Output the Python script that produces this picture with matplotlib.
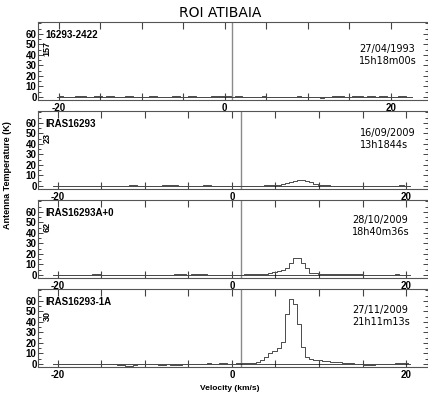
import matplotlib
matplotlib.use("Agg")
import matplotlib.pyplot as plt
import numpy as np
from matplotlib.ticker import MultipleLocator, FixedLocator, FuncFormatter

plt.rcParams["font.family"] = ["Liberation Sans", "DejaVu Sans"]
plt.rcParams["font.weight"] = "bold"

# ── data ──────────────────────────────────────────────────────────────────────
TITLE   = "ROI ATIBAIA"
SOURCES = ["16293-2422", "IRAS16293", "IRAS16293A+0", "IRAS16293-1A"]
SCANS   = ["157", "23", "62", "30"]
DATES   = ["27/04/1993", "16/09/2009", "28/10/2009", "27/11/2009"]
TIMES   = ["15h18m00s", "13h1844s", "18h40m36s", "21h11m13s"]
VLSR    = [0.85, 1.0, 1.0, 1.0]

# channel grid (km/s): first channel, width
V0 = [-20.2, -20.49, -20.49, -20.49]
DV = 0.47

T1 = [0.3, 0.5, 0.2, -0.3, 0.4, 0.6, 0.5, 0.7, 0.4, 0.2,
      0.6, 0.5, 0.3, 0.7, 0.6, 0.2, -0.4, 0.3, 0.5, 0.6,
      0.2, -0.5, -0.3, 0.4, 0.6, 0.5, 0.3, 0.2, -0.4, -0.2,
      0.5, 0.8, 0.4, 0.2, 0.6, 0.5, -0.3, 0.4, 0.3, 0.2,
      0.6, 0.9, 1.0, 0.7, 0.5, 0.4, 0.8, 0.6, 0.3, 0.4,
      0.2, -0.4, 0.3, 0.5, 0.2, 0.4, 0.3, -0.3, -0.5, 0.2,
      0.4, 0.3, 0.5, 0.2, -0.2, 0.3, 0.4, 0.2, -0.6, -0.4,
      -0.3, 0.5, 0.8, 0.6, 0.3, 0.4, 0.7, 0.9, 0.6, 0.4,
      0.8, 0.6, 0.3, 0.5, 0.7, 0.4, 0.2, -0.3, 0.5, 0.6,
      0.3, 0.2]

T2 = [0.2, 0.1, 0.3, 0.2, 0.0, 0.3, 0.2, 0.1, 0.2, 0.3,
      0.2, 0.1, 0.4, 0.3, 0.2, 0.1, 0.3, 0.2, 0.2, 0.5,
      0.6, 0.4, 0.3, 0.2, 0.1, 0.2, 0.3, 0.6, 0.7, 0.5,
      0.6, 0.4, 0.3, 0.2, 0.3, 0.2, 0.4, 0.6, 0.5, 0.3,
      0.2, 0.1, 0.2, 0.3, 0.2, 0.3, 0.2, 0.1, 0.3, 0.4,
      0.3, 0.4, 0.5, 0.6, 0.8, 1.1, 1.7, 2.6, 3.7, 4.8,
      5.6, 5.7, 4.8, 3.4, 2.0, 1.1, 0.7, 0.5, 0.4, 0.3,
      0.3, 0.2, 0.3, 0.2, 0.2, 0.1, 0.2, 0.1, 0.2, 0.3,
      0.2, 0.1, 0.3, 0.2, 0.4, 0.5, 0.3, 0.2]

T3 = [0.2, 0.3, 0.1, 0.2, 0.4, 0.3, 0.2, 0.1, 0.3, 0.2,
      0.6, 0.5, 0.2, 0.1, 0.3, 0.2, 0.1, 0.2, 0.3, 0.2,
      0.1, 0.3, 0.2, 0.1, 0.2, 0.3, 0.2, 0.1, 0.2, 0.4,
      0.8, 0.9, 0.7, 0.4, 0.5, 0.7, 0.8, 0.6, 0.3, 0.2,
      0.3, 0.2, 0.1, 0.3, 0.2, 0.3, 0.4, 0.5, 0.6, 0.7,
      0.8, 1.0, 1.3, 1.8, 2.5, 3.3, 4.5, 6.5, 11.7, 16.5,
      16.5, 11.8, 7.0, 2.0, 1.5, 1.3, 1.2, 1.1, 1.0, 0.9,
      0.8, 0.8, 0.7, 0.6, 0.6, 0.5, 0.4, 0.4, 0.3, 0.3,
      0.2, 0.3, 0.2, 0.4, 0.5, 0.4, 0.3, 0.2]

T4 = [0.3, 0.2, 0.4, 0.3, 0.2, 0.3, 0.1, 0.2, 0.3, 0.2,
      0.1, 0.2, 0.0, -0.3, -0.2, -0.4, -0.8, -1.2, -1.8, -1.5,
      -0.8, -0.3, 0.2, 0.3, 0.1, -0.3, -0.6, -0.8, -0.5, -0.9,
      -1.0, -0.7, -0.3, 0.1, 0.2, 0.3, 0.2, 0.4, 0.5, 0.3,
      0.4, 0.6, 0.5, 0.4, 0.3, 0.5, 0.6, 0.8, 1.0, 1.2,
      1.8, 4.0, 6.5, 10.0, 12.5, 15.0, 21.0, 48.0, 62.0, 57.0,
      38.0, 16.0, 7.0, 5.0, 4.0, 3.5, 3.0, 2.5, 2.2, 2.0,
      1.5, 1.2, 1.0, 0.5, 0.2, -0.5, -1.0, -1.2, -1.0, -0.5,
      0.0, 0.2, 0.3, 0.4, 0.5, 0.8, 0.6, 0.4]

SPECTRA = [T1, T2, T3, T4]
XLIMS   = [(-22.5, 24.5), (-22.25, 22.5), (-22.25, 22.5), (-22.25, 22.5)]

# ── layout (pixels) ───────────────────────────────────────────────────────────
W, H = 428, 395
TOPS = [22, 111, 200, 289]
PH = 78
LEFT, RIGHT = 38, 428
DATE_X = [359, 360, 352, 352]
DATE_DY = [27, 22, 20, 21]

fig = plt.figure(figsize=(W / 100, H / 100), dpi=100)

def fx(px):
    return px / W

def fy(py):
    return 1 - py / H

fmt = FuncFormatter(lambda v, p: f"{v:.0f}" if round(v) in (-20, 0, 20) else "")

for k in range(4):
    top = TOPS[k]
    ax = fig.add_axes([fx(LEFT), fy(top + PH), (RIGHT - LEFT) / W, PH / H])
    T = np.array(SPECTRA[k])
    v = V0[k] + DV * np.arange(len(T))
    ax.axvline(VLSR[k], color="#8a8a8a", lw=1.0, zorder=1)
    ax.hlines(0, v[0], v[-1], color="black", lw=0.5, zorder=2)
    ax.step(v, T, where="mid", color="#4a4a4a", lw=0.7, zorder=3)

    ax.set_xlim(*XLIMS[k])
    ax.set_ylim(-2.9, 71.4)
    ax.xaxis.set_major_locator(MultipleLocator(5))
    ax.xaxis.set_major_formatter(fmt)
    ax.yaxis.set_major_locator(FixedLocator([0, 10, 20, 30, 40, 50, 60]))
    ax.yaxis.set_minor_locator(FixedLocator([5, 15, 25, 35, 45, 55, 65, 70]))
    ax.tick_params(axis="x", which="major", direction="in", length=5, width=0.8,
                   top=True, bottom=True, labelsize=7, pad=2, color="#444444")
    ax.tick_params(axis="y", which="major", direction="in", length=3.5, width=0.7,
                   left=True, right=True, labelsize=7, pad=1, color="#444444")
    ax.tick_params(axis="y", which="minor", direction="in", length=2.5, width=0.7,
                   left=True, right=True, color="#444444")
    for s in ax.spines.values():
        s.set_color("#555555")
        s.set_linewidth(0.8)

    fig.text(fx(45), fy(top + 13), SOURCES[k], fontsize=7, fontweight="bold",
             ha="left", va="center")
    fig.text(fx(47), fy(top + 27), SCANS[k], fontsize=6.5, fontweight="bold",
             rotation=90, ha="center", va="center")
    fig.text(fx(DATE_X[k]), fy(top + DATE_DY[k]), DATES[k], fontsize=7,
             family="DejaVu Sans", fontweight="normal", ha="left", va="center")
    fig.text(fx(DATE_X[k]), fy(top + DATE_DY[k] + 12), TIMES[k], fontsize=7,
             family="DejaVu Sans", fontweight="normal", ha="left", va="center")

fig.text(fx(220), fy(13), TITLE, fontsize=10, family="DejaVu Sans",
         fontweight="normal", ha="center", va="center")
fig.text(fx(7.5), fy(175), "Antenna Temperature (K)", fontsize=6.5,
         fontweight="bold", rotation=90, ha="center", va="center")
fig.text(fx(230), fy(389), "Velocity (km/s)", fontsize=6,
         fontweight="bold", ha="center", va="center")

fig.savefig("out.png", dpi=100)
